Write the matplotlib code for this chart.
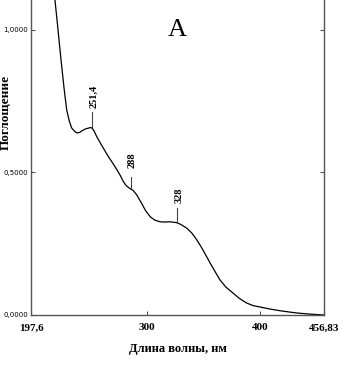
import matplotlib.pyplot as plt

# spectrum (nm, absorbance)
wl = [218.8, 221.0, 223.0, 224.8, 227.0, 229.2, 231.5, 233.6, 236.0, 238.0,
      240.5, 242.5, 246.0, 249.8, 251.4, 253.5, 255.7, 260.0, 265.7, 270.0,
      273.4, 276.5, 279.3, 282.0, 285.0, 288.0, 291.0, 295.0, 299.0,
      303.0, 307.0, 311.7, 316.0, 320.6, 326.5, 330.0, 335.3, 340.0, 344.0,
      348.0, 352.0, 356.0, 360.5, 364.8, 370.0, 376.3, 382.0, 388.4, 394.0,
      400.2, 409.0, 417.9, 427.0, 435.6, 445.0, 456.8]
absorb = [1.105, 1.02, 0.94, 0.871, 0.79, 0.719, 0.68, 0.656, 0.645, 0.639,
          0.640, 0.646, 0.653, 0.657, 0.657, 0.645, 0.626, 0.596, 0.558, 0.532,
          0.511, 0.490, 0.468, 0.453, 0.444, 0.437, 0.422, 0.395, 0.366,
          0.345, 0.333, 0.327, 0.326, 0.327, 0.324, 0.318, 0.305, 0.287, 0.265,
          0.240, 0.212, 0.183, 0.152, 0.123, 0.098, 0.077, 0.058, 0.042, 0.033,
          0.028, 0.021, 0.015, 0.010, 0.006, 0.003, 0.0]

peak_x = [251.4, 286.0, 327.0]
peak_labels = ["251,4", "288", "328"]
mark_lo = [0.660, 0.446, 0.326]
mark_hi = [0.712, 0.484, 0.375]
label_y = [0.726, 0.516, 0.393]

xticks = [197.6, 300, 400, 456.83]
xtick_labels = ["197,6", "300", "400", "456,83"]
yticks = [0.0, 0.5, 1.0]
ytick_labels = ["0,0000", "0,5000", "1,0000"]

fig = plt.figure(figsize=(3.6, 3.74), dpi=100)
ax = fig.add_axes([31 / 360, 1 - 315 / 374, 293 / 360, 315 / 374])

ax.plot(wl, absorb, color="black", lw=0.9)

# peak markers
for p, lab, lo, hi, ty in zip(peak_x, peak_labels, mark_lo, mark_hi, label_y):
    ax.plot([p, p], [lo, hi], color="#444444", lw=0.8)
    ax.text(p + 1.5, ty, lab, rotation=90, ha="center", va="bottom",
            fontsize=7.5, fontweight="bold", family="Liberation Serif")

ax.set_xlim(197.6, 456.83)
ax.set_ylim(0, 1.105)

ax.set_xticks(xticks)
ax.set_xticklabels(xtick_labels, fontsize=8, fontweight="bold",
                   family="Liberation Serif")
ax.set_yticks(yticks)
ax.set_yticklabels(ytick_labels, fontsize=5, family="DejaVu Sans")
ax.tick_params(direction="in", length=3, width=0.8, color="#555555",
               right=True, pad=2)
ax.tick_params(axis="x", pad=6)

for s in ["left", "right", "bottom"]:
    ax.spines[s].set_color("#555555")
    ax.spines[s].set_linewidth(1)
ax.spines["top"].set_visible(False)

ax.set_xlabel("Длина волны, нм", fontsize=9, fontweight="bold",
              family="Liberation Serif", labelpad=8)
ax.set_ylabel("Поглощение", fontsize=9.5, fontweight="bold",
              family="Liberation Serif")
ax.yaxis.set_label_coords(-0.066, 0.644)

ax.text(0.5, 0.905, "A", transform=ax.transAxes, ha="center", va="center",
        fontsize=19, family="Liberation Serif")

fig.savefig("out.png", dpi=100)
plt.close()
